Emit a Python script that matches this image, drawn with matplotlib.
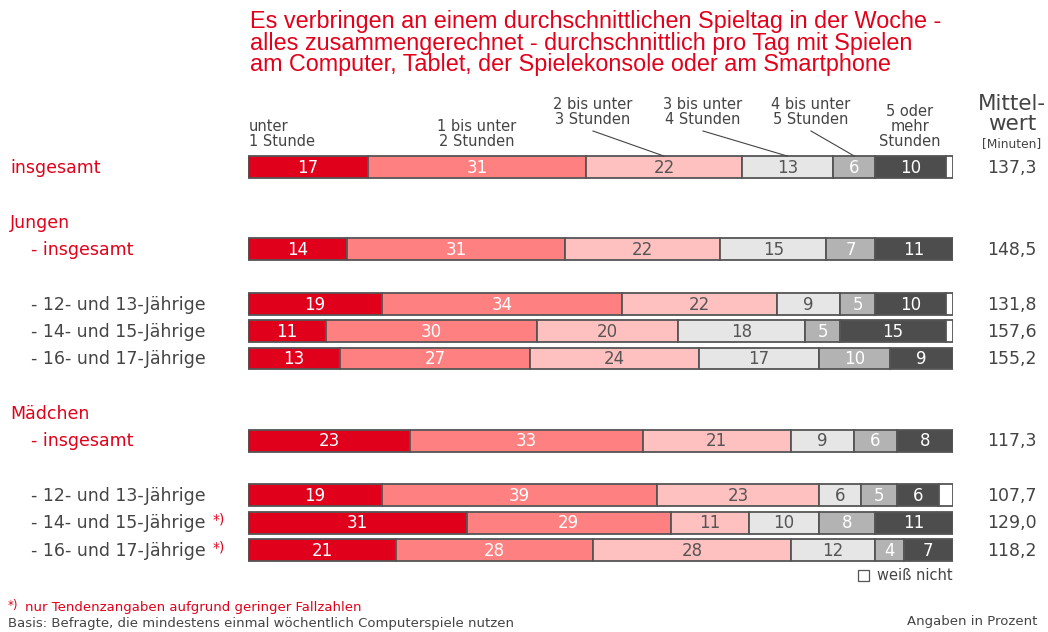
import matplotlib
matplotlib.use("Agg")
import matplotlib.pyplot as plt
from matplotlib.patches import Rectangle
from matplotlib.transforms import blended_transform_factory
import numpy as np

W, H = 1048, 632

# ---------------- data ----------------
row_labels = ["insgesamt", "- insgesamt", "- 12- und 13-Jährige", "- 14- und 15-Jährige",
              "- 16- und 17-Jährige", "- insgesamt", "- 12- und 13-Jährige",
              "- 14- und 15-Jährige", "- 16- und 17-Jährige"]
row_pos = [0, 3, 5, 6, 7, 10, 12, 13, 14]
row_is_red = [True, True, False, False, False, True, False, False, False]
row_star = [False, False, False, False, False, False, False, True, True]
group_labels = ["Jungen", "Mädchen"]
group_pos = [2, 9]

categories = ["unter\n1 Stunde", "1 bis unter\n2 Stunden", "2 bis unter\n3 Stunden",
              "3 bis unter\n4 Stunden", "4 bis unter\n5 Stunden", "5 oder\nmehr\nStunden",
              "weiß nicht"]
unter1 = [17, 14, 19, 11, 13, 23, 19, 31, 21]
b1_2 = [31, 31, 34, 30, 27, 33, 39, 29, 28]
b2_3 = [22, 22, 22, 20, 24, 21, 23, 11, 28]
b3_4 = [13, 15, 9, 18, 17, 9, 6, 10, 12]
b4_5 = [6, 7, 5, 5, 10, 6, 5, 8, 4]
b5p = [10, 11, 10, 15, 9, 8, 6, 11, 7]
weiss_nicht = [1, 0, 1, 1, 0, 0, 2, 0, 0]
mittelwert = ["137,3", "148,5", "131,8", "157,6", "155,2", "117,3", "107,7", "129,0", "118,2"]

series = [unter1, b1_2, b2_3, b3_4, b4_5, b5p, weiss_nicht]
colors = ["#e0001b", "#ff8080", "#ffc0c0", "#e6e6e6", "#b3b3b3", "#4d4d4d", "#ffffff"]
txt_colors = ["white", "white", "#555555", "#555555", "white", "white", None]

RED = "#e2001a"
GRAY = "#444444"

fig = plt.figure(figsize=(W / 100, H / 100), dpi=100)

# axes for bars: x 248..953 px ; y data 0 at px 167, 14 at px 550
unit = (550 - 167) / 14.0
y_top_px = 167 - unit
y_bot_px = 550 + unit
ax = fig.add_axes([248 / W, 1 - y_bot_px / H, (953 - 248) / W, (y_bot_px - y_top_px) / H])
ax.set_xlim(0, 100)
ax.set_ylim(15, -1)
ax.axis("off")

left = np.zeros(len(row_pos))
for i, vals in enumerate(series):
    vals = np.array(vals, dtype=float)
    ax.barh(row_pos, vals, left=left, height=0.8, color=colors[i],
            edgecolor="#555555", linewidth=1.3)
    if txt_colors[i] is not None:
        for y, l, v in zip(row_pos, left, vals):
            if v > 0:
                ax.text(l + v / 2, y + 0.03, f"{int(v)}", ha="center", va="center",
                        fontsize=12, color=txt_colors[i])
    left += vals

# pixel-x / data-y transform
tr = blended_transform_factory(fig.transFigure, ax.transData)

def fx(px):
    return px / W

def fy(py):
    return 1 - py / H

label_objs = []
for lab, y, red, star in zip(row_labels, row_pos, row_is_red, row_star):
    x = 10 if lab == "insgesamt" else 31
    t = fig.text(fx(x), y + 0.03, lab, transform=tr, ha="left", va="center", fontsize=12.5,
                 color=RED if red else "#444444")
    label_objs.append((t, star, y))
for lab, y in zip(group_labels, group_pos):
    fig.text(fx(10), y + 0.03, lab, transform=tr, ha="left", va="center", fontsize=12.5, color=RED)

for y, m in zip(row_pos, mittelwert):
    fig.text(fx(1012), y + 0.03, m, transform=tr, ha="center", va="center", fontsize=12.5,
             color="#444444")

# title
fig.text(fx(250), fy(10), "Es verbringen an einem durchschnittlichen Spieltag in der Woche -\n"
         "alles zusammengerechnet - durchschnittlich pro Tag mit Spielen\n"
         "am Computer, Tablet, der Spielekonsole oder am Smartphone",
         ha="left", va="top", fontsize=16.8, color=RED, family="Liberation Sans",
         linespacing=0.92)

# Mittelwert header
fig.text(fx(1012), fy(94), "Mittel-\nwert", ha="center", va="top", fontsize=15.5,
         color="#444444", linespacing=0.98)
fig.text(fx(1012), fy(150), "[Minuten]", ha="center", va="bottom", fontsize=8.8, color="#444444")

# category headers
hdr = dict(fontsize=10.5, color=GRAY, linespacing=1.0)
fig.text(fx(249), fy(149), categories[0], ha="left", va="bottom", **hdr)
fig.text(fx(477), fy(149), categories[1], ha="center", va="bottom", **hdr)
fig.text(fx(593), fy(127), categories[2], ha="center", va="bottom", **hdr)
fig.text(fx(703), fy(127), categories[3], ha="center", va="bottom", **hdr)
fig.text(fx(811), fy(127), categories[4], ha="center", va="bottom", **hdr)
fig.text(fx(910), fy(149), categories[5], ha="center", va="bottom", **hdr)

# leader lines from labels to segment centers of first row
cum = np.cumsum([unter1[0], b1_2[0], b2_3[0], b3_4[0], b4_5[0]])
starts = [cum[1], cum[2], cum[3]]
segs = [b2_3[0], b3_4[0], b4_5[0]]
lab_px = [593, 703, 811]
for s, w, px in zip(starts, segs, lab_px):
    xd = s + w / 2
    x0 = (px - 248) / (953 - 248) * 100
    y0 = (131 - 167) / unit
    ax.plot([x0, xd], [y0, -0.4], color="#444444", lw=0.8, clip_on=False)

# legend weiß nicht
fig.patches.append(Rectangle((fx(858), fy(581)), 11 / W, 11 / H, transform=fig.transFigure,
                             facecolor="white", edgecolor="#555555", lw=0.9))
fig.text(fx(953), fy(575), "weiß nicht", ha="right", va="center", fontsize=10.5, color=GRAY)

# footer
fig.text(fx(8), fy(605), "*)", ha="left", va="center", fontsize=8.5, color=RED)
fig.text(fx(25), fy(608), "nur Tendenzangaben aufgrund geringer Fallzahlen", ha="left",
         va="center", fontsize=9.5, color=RED)
fig.text(fx(8), fy(623), "Basis: Befragte, die mindestens einmal wöchentlich Computerspiele nutzen",
         ha="left", va="center", fontsize=9.5, color="#444444")
fig.text(fx(1037), fy(622), "Angaben in Prozent", ha="right", va="center", fontsize=9.5,
         color="#444444")

# superscripts
fig.canvas.draw()
r = fig.canvas.get_renderer()
for t, star, y in label_objs:
    if star:
        bb = t.get_window_extent(r)
        fig.text((bb.x1 + 7) / W, y - 0.1, "*)", transform=tr, ha="left", va="center",
                 fontsize=10, color=RED)

fig.savefig("out.png", dpi=100)
